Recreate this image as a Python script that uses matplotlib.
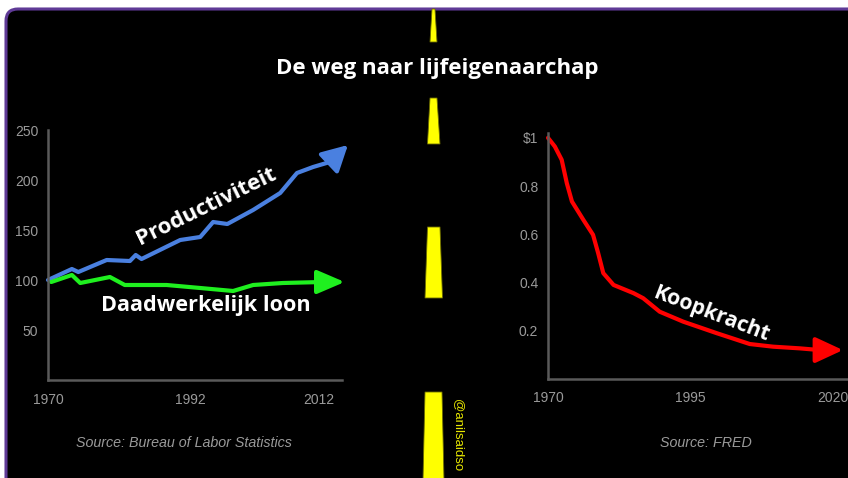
import numpy as np
import matplotlib
matplotlib.use('Agg')
import matplotlib.pyplot as plt
from matplotlib.patches import FancyBboxPatch, Polygon

# ---- data ----
prod_years = [1970, 1973.7, 1974.7, 1979.1, 1982.7, 1983.6, 1984.5, 1990.5,
              1993.6, 1995.6, 1997.8, 2001.8, 2006.0, 2008.6, 2011.1, 2013.7]
prod_vals = [100, 111, 108, 120, 119, 125, 121, 140,
             143, 158, 156, 170, 187, 207, 213, 218]
prod_tip = (2016.5, 235)

wage_years = [1970.5, 1973.7, 1975.0, 1979.6, 1981.9, 1988.4, 1993.6,
              1998.7, 2001.8, 2006.4, 2012.6]
wage_vals = [98, 105, 97, 103, 95, 95, 92, 89, 95, 97, 98]
wage_tip = (2016.0, 98)

pp_years = [1970, 1971.2, 1972.4, 1973.3, 1974.2, 1976.2, 1977.9, 1978.8,
            1979.7, 1981.5, 1985.0, 1986.7, 1989.6, 1993.7, 1999.6, 2005.4,
            2009.5, 2014.2, 2017.7]
pp_vals = [1.0, 0.964, 0.909, 0.812, 0.736, 0.66, 0.598, 0.522,
           0.439, 0.39, 0.356, 0.335, 0.279, 0.238, 0.19, 0.145,
           0.134, 0.127, 0.12]
pp_tip = (2021.75, 0.12)

left_xticks = [1970, 1992, 2012]
left_yticks = [50, 100, 150, 200, 250]
right_xticks = [1970, 1995, 2020]
right_yticks = [0.2, 0.4, 0.6, 0.8, 1.0]
right_yticklabels = ['0.2', '0.4', '0.6', '0.8', '$1']

title = 'De weg naar lijfeigenaarchap'
W, H = 848, 478

BLUE = '#4a80e0'
GREEN = '#1ff01f'
RED = '#ff0000'
TICK = '#9a9a9a'
SPINE = '#5a5a5a'
BOLD = 'Open Sans'
SANS = 'Liberation Sans'
HEAVY = 'bold'

fig = plt.figure(figsize=(W / 100, H / 100), dpi=100)
fig.patch.set_facecolor('white')

# background panel in pixel coords
bg = fig.add_axes([0, 0, 1, 1])
bg.set_xlim(0, W)
bg.set_ylim(H, 0)
bg.axis('off')
bg.add_patch(FancyBboxPatch((6, 9), 900, 520,
                            boxstyle='round,pad=0,rounding_size=12',
                            facecolor='black', edgecolor='#5f3a96', lw=2.2))

# road markings (perspective dashes)
dashes = [
    [(432, 9), (435, 9), (437, 42), (430, 42)],
    [(430, 98), (437, 98), (440, 144), (427.5, 144)],
    [(427.5, 227), (440, 227), (442.5, 298), (425, 298)],
    [(425, 392), (442, 392), (444, 480), (423, 480)],
]
for d in dashes:
    bg.add_patch(Polygon(d, closed=True, facecolor='#ffff00',
                         edgecolor='#6b6b00', lw=0.6))

bg.text(437, 68, title, color='white', fontsize=16, fontweight=HEAVY,
        family=BOLD, ha='center', va='center')
bg.text(458, 435, '@anilsaidso', color='#e8e800', fontsize=9.5,
        family=SANS, rotation=-90, ha='center', va='center')
bg.text(184, 443, 'Source: Bureau of Labor Statistics', color=TICK,
        fontsize=10.3, style='italic', family=SANS, ha='center', va='center')
bg.text(706, 443, 'Source: FRED', color=TICK, fontsize=10.3,
        style='italic', family=SANS, ha='center', va='center')


def style_axes(ax):
    ax.set_facecolor('none')
    for s in ['top', 'right']:
        ax.spines[s].set_visible(False)
    for s in ['left', 'bottom']:
        ax.spines[s].set_color(SPINE)
        ax.spines[s].set_linewidth(1.8)
    ax.tick_params(length=0, colors=TICK, labelsize=10)
    ax.tick_params(axis='x', pad=9)
    ax.tick_params(axis='y', pad=7)
    for lab in ax.get_xticklabels() + ax.get_yticklabels():
        lab.set_family(SANS)


# ---- left chart ----
axl = fig.add_axes([48 / W, (H - 380) / H, (342 - 48) / W, 250 / H])
axl.set_xlim(1970, 1970 + 294 / 6.45)
axl.set_ylim(0, 250)
axl.set_xticks(left_xticks)
axl.set_yticks(left_yticks)
style_axes(axl)

axl.plot(prod_years, prod_vals, color=BLUE, lw=3, solid_joinstyle='round',
         solid_capstyle='round', clip_on=False)
axl.annotate('', xy=prod_tip, xytext=(prod_years[-1], prod_vals[-1]),
             arrowprops=dict(arrowstyle='-|>,head_length=1.3,head_width=0.7',
                             color=BLUE, lw=3, mutation_scale=12,
                             shrinkA=0, shrinkB=0), annotation_clip=False)
axl.plot(wage_years, wage_vals, color=GREEN, lw=3, solid_joinstyle='round',
         solid_capstyle='round', clip_on=False)
axl.annotate('', xy=wage_tip, xytext=(wage_years[-1], wage_vals[-1]),
             arrowprops=dict(arrowstyle='-|>,head_length=1.4,head_width=0.6',
                             color=GREEN, lw=3, mutation_scale=12,
                             shrinkA=0, shrinkB=0), annotation_clip=False)
axl.text(1994.5, 173, 'Productiviteit', color='white', fontsize=16,
         fontweight=HEAVY, family=BOLD, rotation=26, ha='center',
         va='center', rotation_mode='anchor')
axl.text(1994.5, 75, 'Daadwerkelijk loon', color='white', fontsize=15.6,
         fontweight=HEAVY, family=BOLD, ha='center', va='center')

# ---- right chart ----
axr = fig.add_axes([548 / W, (H - 379) / H, (W - 548) / W, 246 / H])
axr.set_xlim(1970, 1970 + 300 / 5.7)
axr.set_ylim(0, 1.02)
axr.set_xticks(right_xticks)
axr.set_yticks(right_yticks)
axr.set_yticklabels(right_yticklabels)
style_axes(axr)

axr.plot(pp_years, pp_vals, color=RED, lw=3, solid_joinstyle='round',
         solid_capstyle='round', clip_on=False)
axr.annotate('', xy=pp_tip, xytext=(pp_years[-1], pp_vals[-1]),
             arrowprops=dict(arrowstyle='-|>,head_length=1.4,head_width=0.65',
                             color=RED, lw=3, mutation_scale=12,
                             shrinkA=0, shrinkB=0), annotation_clip=False)
axr.text(1998.6, 0.27, 'Koopkracht', color='white', fontsize=15.2,
         fontweight=HEAVY, family=BOLD, rotation=-21, ha='center',
         va='center', rotation_mode='anchor')

fig.savefig('out.png', dpi=100, facecolor=fig.get_facecolor())
